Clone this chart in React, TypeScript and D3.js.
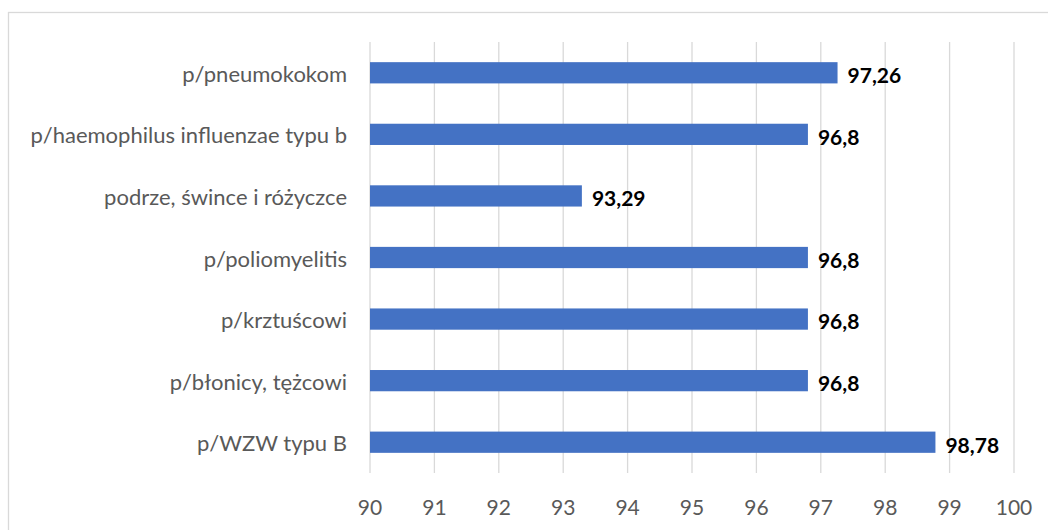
import React, { useEffect, useRef } from "react";
import * as d3 from "d3";

const categories = [
  "p/pneumokokom",
  "p/haemophilus influenzae typu b",
  "podrze, śwince i różyczce",
  "p/poliomyelitis",
  "p/krztuścowi",
  "p/błonicy, tężcowi",
  "p/WZW typu B"
];
const values = [97.26, 96.8, 93.29, 96.8, 96.8, 96.8, 98.78];
const xTicks = [90, 91, 92, 93, 94, 95, 96, 97, 98, 99, 100];

const W = 1048;
const H = 530;
const FONT = "Lato, 'Open Sans', sans-serif";

export default function App() {
  const ref = useRef<SVGSVGElement>(null);

  useEffect(() => {
    const svg = d3.select(ref.current);
    svg.selectAll("*").remove();

    const margin = { top: 42, right: 34, bottom: 57, left: 370 };
    const x = d3.scaleLinear().domain([90, 100]).range([margin.left, W - margin.right]);
    const y = d3
      .scaleBand()
      .domain(categories)
      .range([margin.top, H - margin.bottom])
      .paddingInner(0.655)
      .paddingOuter(0.3275);

    // chart frame (runs off the right and bottom edge)
    svg
      .append("rect")
      .attr("x", 8.5)
      .attr("y", 12.5)
      .attr("width", W + 20)
      .attr("height", H + 20)
      .attr("fill", "#fff")
      .attr("stroke", "#d9d9d9")
      .attr("stroke-width", 1.3);

    // gridlines
    svg
      .append("g")
      .selectAll("line")
      .data(xTicks)
      .join("line")
      .attr("x1", d => x(d))
      .attr("x2", d => x(d))
      .attr("y1", margin.top)
      .attr("y2", H - margin.bottom)
      .attr("stroke", "#d9d9d9")
      .attr("stroke-width", 1.3);

    // tick labels
    svg
      .append("g")
      .selectAll("text")
      .data(xTicks)
      .join("text")
      .attr("x", d => x(d))
      .attr("y", H - margin.bottom + 42)
      .attr("text-anchor", "middle")
      .attr("fill", "#595959")
      .style("font-family", FONT)
      .style("font-size", "21px")
      .text(d => d);

    // bars
    svg
      .append("g")
      .selectAll("rect")
      .data(values)
      .join("rect")
      .attr("x", x(90))
      .attr("y", (d, i) => y(categories[i]) as number)
      .attr("width", d => x(d) - x(90))
      .attr("height", y.bandwidth())
      .attr("fill", "#4472c4");

    // category labels
    svg
      .append("g")
      .selectAll("text")
      .data(categories)
      .join("text")
      .attr("x", margin.left - 23)
      .attr("y", d => (y(d) as number) + y.bandwidth() / 2 + 9)
      .attr("text-anchor", "end")
      .attr("fill", "#595959")
      .style("font-family", FONT)
      .style("font-size", "22px")
      .text(d => d);

    // value labels
    svg
      .append("g")
      .selectAll("text")
      .data(values)
      .join("text")
      .attr("x", d => x(d) + 10)
      .attr("y", (d, i) => (y(categories[i]) as number) + y.bandwidth() / 2 + 3)
      .attr("dy", "0.35em")
      .attr("fill", "#000")
      .style("font-family", FONT)
      .style("font-size", "21px")
      .style("font-weight", "bold")
      .text(d => String(d).replace(".", ","));
  }, []);

  return (
    <svg
      ref={ref}
      width={W}
      height={H}
      style={{ position: "absolute", left: 0, top: 0, background: "#fff" }}
    />
  );
}
